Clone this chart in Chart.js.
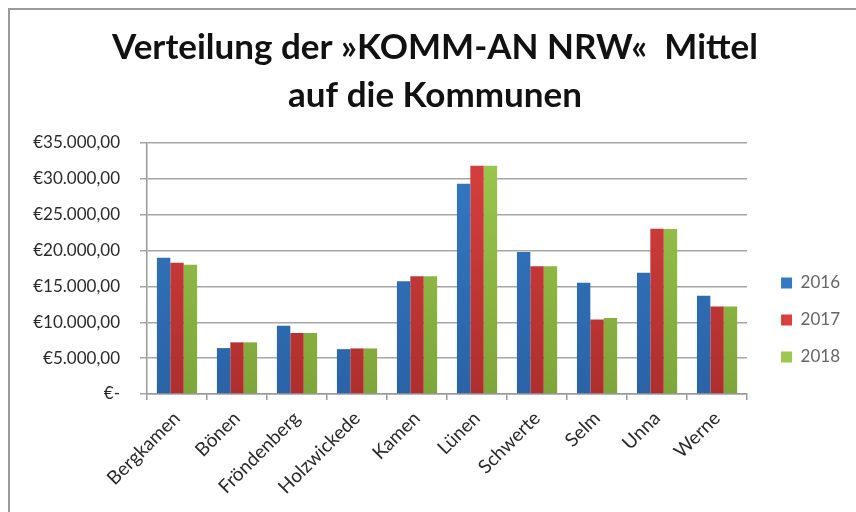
<!DOCTYPE html>
<html>
<head>
<meta charset="utf-8">
<script src="https://cdn.jsdelivr.net/npm/chart.js@4.4.1/dist/chart.umd.min.js"></script>
<style>
  html, body { margin: 0; padding: 0; background: #fff; }
  #wrap { position: relative; width: 856px; height: 512px; }
  #frame { position: absolute; left: 8px; top: 8px; right: -2px; bottom: -2px;
           border-left: 2px solid #9a9a9a; border-top: 2px solid #9a9a9a; }
  canvas { position: absolute; left: 0; top: 0; }
</style>
</head>
<body>
<div id="wrap">
  <div id="frame"></div>
  <canvas id="chart" width="856" height="512"></canvas>
</div>
<script>
// Kommunen und Mittel je Jahr (in Euro)
const kommunen = ['Bergkamen', 'Bönen', 'Fröndenberg', 'Holzwickede', 'Kamen',
                  'Lünen', 'Schwerte', 'Selm', 'Unna', 'Werne'];
const jahre = ['2016', '2017', '2018'];
const werte2016 = [19000, 6400, 9500, 6250, 15700, 29300, 19800, 15500, 16900, 13700];
const werte2017 = [18300, 7200, 8500, 6350, 16400, 31800, 17800, 10400, 23050, 12200];
const werte2018 = [18000, 7200, 8500, 6350, 16400, 31800, 17800, 10600, 23000, 12200];
const yTicks = [0, 5000, 10000, 15000, 20000, 25000, 30000, 35000];

const farben = [
    ['#3479c4', '#2a63a6'],
    ['#d8403e', '#ad2f2d'],
    ['#9cc84d', '#7ea53a']
];

function euro(v) {
    if (v === 0) return '€-';
    const ganz = Math.round(v).toString().replace(/\B(?=(\d{3})+(?!\d))/g, '.');
    return '€' + ganz + ',00';
}

function verlauf(i) {
    return (ctx) => {
        const area = ctx.chart.chartArea;
        if (!area) return farben[i][0];
        const g = ctx.chart.ctx.createLinearGradient(0, area.top, 0, area.bottom);
        g.addColorStop(0, farben[i][0]);
        g.addColorStop(1, farben[i][1]);
        return g;
    };
}

const reihen = [werte2016, werte2017, werte2018];

new Chart(document.getElementById('chart'), {
    type: 'bar',
    data: {
        labels: kommunen,
        datasets: reihen.map((werte, i) => ({
            label: jahre[i],
            data: werte,
            backgroundColor: verlauf(i),
            borderWidth: 0,
            categoryPercentage: 0.67,
            barPercentage: 1.0
        }))
    },
    options: {
        responsive: false,
        animation: false,
        events: [],
        layout: { padding: { left: 20, right: 6, top: 14, bottom: 0 } },
        plugins: {
            title: {
                display: true,
                text: ['Verteilung der »KOMM-AN NRW«  Mittel', 'auf die Kommunen'],
                color: '#111',
                font: { family: 'Lato', size: 35, weight: 'bold', lineHeight: 1.37 },
                padding: { top: 10, bottom: 23 }
            },
            legend: {
                position: 'right',
                // leerer Titel schiebt die Einträge nach unten
                title: { display: true, text: ' ', font: { size: 10, lineHeight: 1.2 },
                         padding: { top: 51, bottom: 51 } },
                labels: {
                    color: '#222',
                    font: { family: 'Lato', size: 17 },
                    boxWidth: 11,
                    boxHeight: 11,
                    padding: 20,
                    generateLabels: (chart) => jahre.map((j, i) => ({
                        text: j,
                        fillStyle: farben[i][0],
                        strokeStyle: farben[i][0],
                        lineWidth: 0,
                        datasetIndex: i
                    }))
                }
            },
            tooltip: { enabled: false }
        },
        scales: {
            x: {
                grid: { display: true, drawOnChartArea: false, offset: true,
                        color: '#9a9a9a', tickLength: 6, lineWidth: 1.5 },
                border: { color: '#9a9a9a', width: 1.5 },
                ticks: {
                    color: '#2a2a2a',
                    font: { family: 'Lato', size: 19 },
                    minRotation: 45,
                    maxRotation: 45,
                    autoSkip: false,
                    padding: 7
                },
                afterFit: (axis) => { axis.height = 118; }
            },
            y: {
                min: 0,
                max: 35000,
                afterBuildTicks: (axis) => { axis.ticks = yTicks.map(v => ({ value: v })); },
                grid: { color: '#a6a6a6', lineWidth: 1.5, tickLength: 7 },
                border: { color: '#9a9a9a', width: 1.5 },
                ticks: {
                    color: '#2a2a2a',
                    font: { family: 'Lato', size: 17 },
                    padding: 20,
                    callback: (v) => euro(v)
                },
                afterFit: (axis) => { axis.width = 127; }
            },
            // schmale leere Achse als Abstand zwischen Diagramm und Legende
            abstand: {
                type: 'linear',
                position: 'right',
                grid: { display: false },
                border: { display: false },
                ticks: { display: false },
                afterFit: (axis) => { axis.width = 14; }
            }
        }
    }
});
</script>
</body>
</html>
